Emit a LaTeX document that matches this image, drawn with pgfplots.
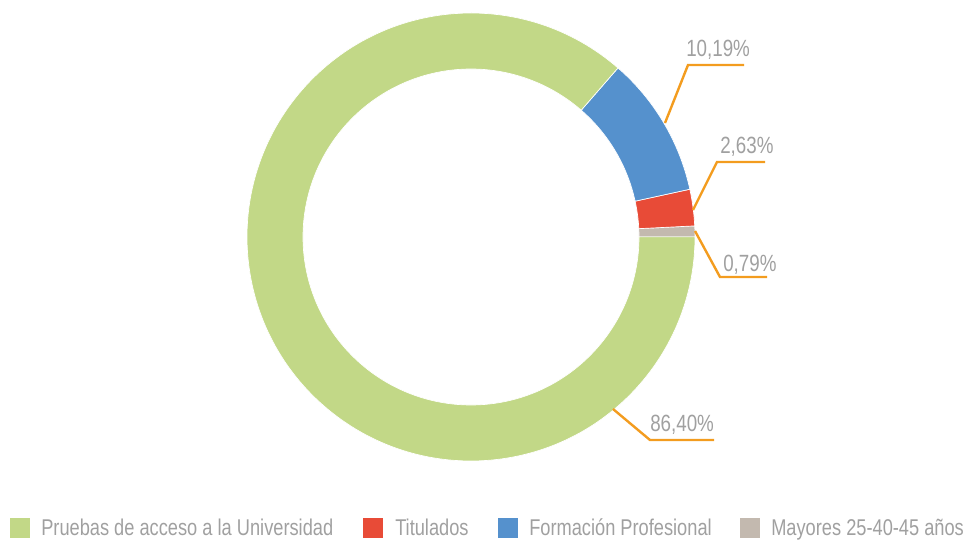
\documentclass[border=0pt]{standalone}
\usepackage{fontspec}
\setmainfont{Liberation Sans}[FakeStretch=0.8]
\usepackage{pgfplots}
\usepackage{pgfplotstable}
\pgfplotsset{compat=1.18}
\definecolor{cgreen}{HTML}{C2D887}
\definecolor{cblue}{HTML}{5591CD}
\definecolor{cred}{HTML}{E84B37}
\definecolor{cgray}{HTML}{C3B9AF}
\definecolor{corange}{HTML}{F39C1F}
\definecolor{ctext}{HTML}{A0A0A0}

\pgfplotstableread{
value colour
0.79 cgray
2.63 cred
10.19 cblue
86.40 cgreen
}\donut

\begin{document}
\begin{tikzpicture}
\begin{axis}[x=0.75pt,y=0.75pt, xmin=0,xmax=976,ymin=0,ymax=543,
  hide axis, scale only axis, clip=false]
\pgfplotstablegetrowsof{\donut}
\pgfmathtruncatemacro{\nrows}{\pgfplotsretval-1}
\def\startangle{0}
\pgfplotsforeachungrouped \i in {0,...,\nrows}{%
  \pgfplotstablegetelem{\i}{value}\of{\donut}\let\val\pgfplotsretval
  \pgfplotstablegetelem{\i}{colour}\of{\donut}\let\col\pgfplotsretval
  \pgfmathsetmacro{\endangle}{\startangle+3.6*\val}%
  \edef\temp{\noexpand\fill[\col, draw=white, line width=0.5pt] (axis cs:471,306) ++(\startangle:168pt) arc[start angle=\startangle, end angle=\endangle, radius=168pt] -- ++(\endangle:-42pt) arc[start angle=\endangle, end angle=\startangle, radius=126pt] -- cycle;}%
  \temp
  \global\let\startangle\endangle
}
\coordinate (BL) at (axis cs:0,0);
\coordinate (TR) at (axis cs:976,543);
% leader lines
\draw[corange, line width=1.8pt] (axis cs:665,420) -- (axis cs:688,478) -- (axis cs:744,478);
\draw[corange, line width=1.8pt] (axis cs:693,333) -- (axis cs:717,381) -- (axis cs:765,381);
\draw[corange, line width=1.8pt] (axis cs:695,312) -- (axis cs:720,266) -- (axis cs:767,266);
\draw[corange, line width=1.8pt] (axis cs:613,134) -- (axis cs:650,103) -- (axis cs:714,103);
% labels
\tikzset{lab/.style={anchor=base west, text=ctext, inner sep=0pt, font=\fontsize{17.6}{20}\selectfont},
  leg/.style={anchor=base west, text=ctext, inner sep=0pt, font=\fontsize{17.1}{20}\selectfont}}
\node[lab] at (axis cs:686,486) {10,19\%};
\node[lab] at (axis cs:720,389) {2,63\%};
\node[lab] at (axis cs:723,271) {0,79\%};
\node[lab] at (axis cs:650,111) {86,40\%};
% legend
\fill[cgreen] (axis cs:10,5) rectangle (axis cs:30,25);
\node[leg] at (axis cs:41,7) {Pruebas de acceso a la Universidad};
\fill[cred] (axis cs:363,5) rectangle (axis cs:383,25);
\node[leg] at (axis cs:395,7) {Titulados};
\fill[cblue] (axis cs:498,5) rectangle (axis cs:518,25);
\node[leg] at (axis cs:529,7) {Formación Profesional};
\fill[cgray] (axis cs:740,5) rectangle (axis cs:760,25);
\node[leg] at (axis cs:771,7) {Mayores 25-40-45 años};
\end{axis}
\pgfresetboundingbox
\path[use as bounding box] (BL) rectangle (TR);
\end{tikzpicture}
\end{document}
